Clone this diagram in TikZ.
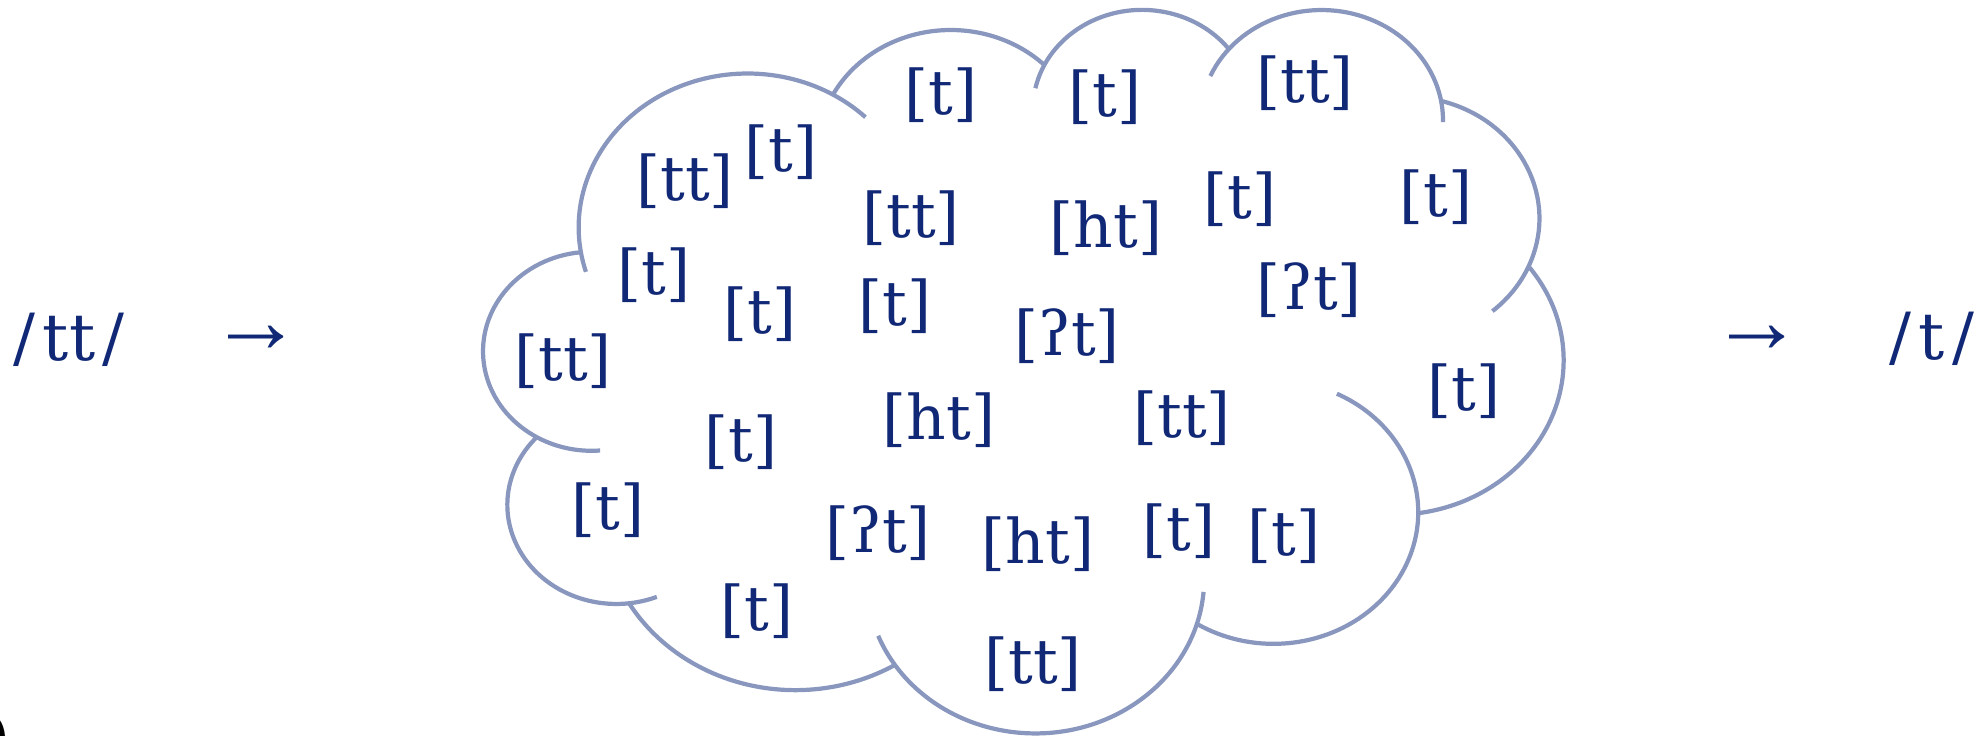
\documentclass[tikz,border=0pt]{standalone}
\usepackage{fontspec}
\setmainfont{DejaVu Serif}
\newfontfamily\arrowfont{Liberation Serif}
\usepackage{xcolor}
\definecolor{ipaNavy}{RGB}{16,40,118}
\definecolor{cloudBlue}{RGB}{137,151,191}
\usetikzlibrary{positioning}

\begin{document}
\begin{tikzpicture}[x=0.01cm,y=-0.01cm,
  ph/.style={text=ipaNavy,inner sep=0pt,font=\fontsize{17.5}{21}\selectfont},
  phon/.style={ph,font=\fontsize{18.5}{22}\selectfont},
  arr/.style={ph,font=\arrowfont\fontsize{26.5}{30}\selectfont},
  lobe/.style={draw=cloudBlue,line width=1.2pt}]
  \useasboundingbox (0,0) rectangle (1984,735);

  % cloud: centre / radii / visual start and end angle of each lobe
  \begin{scope}[shift={(482.7,7.5)},x=0.24995cm,y=-0.16733cm]
    \foreach \cx/\cy/\rx/\ry/\aa/\ab in {
      10.591/13.131/6.753/9.190/157.654/305.612,
      18.715/8.610/5.333/7.267/-144.102/-54.157,
      26.364/6.086/4.365/5.945/-163.494/-46.085,
      33.540/6.746/4.857/6.595/-149.181/1.115,
      36.919/12.594/5.333/7.273/-78.709/58.068,
      36.446/21.076/6.775/9.220/-46.267/84.002,
      31.620/30.140/5.785/7.867/-70.292/114.658,
      22.094/34.143/6.752/9.215/6.453/151.706,
      12.504/30.230/7.720/10.543/66.243/141.140,
      5.345/29.706/4.360/5.918/73.610/231.794,
      4.358/20.532/4.345/5.945/86.742/265.690}
    {
      \pgfmathsetmacro\ta{atan2(\rx*sin(\aa),\ry*cos(\aa))}
      \pgfmathsetmacro\tb{atan2(\rx*sin(\ab),\ry*cos(\ab))}
      \pgfmathsetmacro\tb{\tb<\ta ? \tb+360 : \tb}
      \draw[lobe] ({\cx+\rx*cos(\ta)},{\cy+\ry*sin(\ta)})
        arc[start angle=\ta,end angle=\tb,x radius=\rx,y radius=\ry];
    }
  \end{scope}

  \node[phon] (src) at (69,340) {/\kern2pt tt\kern2pt/};
  \node[arr] (arrL) at (256,339) {→};
  \node[arr] (arrR) at (1757,339) {→};
  \node[phon] (tgt) at (1932,339) {/\kern2pt t\kern2pt/};

  \node[ph] (p1) at (941,95) {[t]};
  \node[ph] (p2) at (1105,97) {[t]};
  \node[ph] (p3) at (1305,83) {[tt]};
  \node[ph] (p4) at (685,181) {[tt]};
  \node[ph] (p5) at (781,152) {[t]};
  \node[ph] (p6) at (911,218) {[tt]};
  \node[ph] (p7) at (1106,228) {[ht]};
  \node[ph] (p8) at (1240,199) {[t]};
  \node[ph] (p9) at (1436,197) {[t]};
  \node[ph] (p10) at (654,275) {[t]};
  \node[ph] (p11) at (760,314) {[t]};
  \node[ph] (p12) at (895,306) {[t]};
  \node[ph] (p13) at (1067,336) {[ʔt]};
  \node[ph] (p14) at (1309,290) {[ʔt]};
  \node[ph] (p15) at (563,361) {[tt]};
  \node[ph] (p16) at (1464,391) {[t]};
  \node[ph] (p17) at (741,442) {[t]};
  \node[ph] (p18) at (939,420) {[ht]};
  \node[ph] (p19) at (1182,418) {[tt]};
  \node[ph] (p20) at (608,510) {[t]};
  \node[ph] (p21) at (878,533) {[ʔt]};
  \node[ph] (p22) at (1038,544) {[ht]};
  \node[ph] (p23) at (1179,531) {[t]};
  \node[ph] (p24) at (1284,536) {[t]};
  \node[ph] (p25) at (757,611) {[t]};
  \node[ph] (p26) at (1033,664) {[tt]};

  \node[inner sep=0pt,font=\fontsize{17.5}{21}\selectfont] (num) at (-1,741) {)};
\end{tikzpicture}
\end{document}
